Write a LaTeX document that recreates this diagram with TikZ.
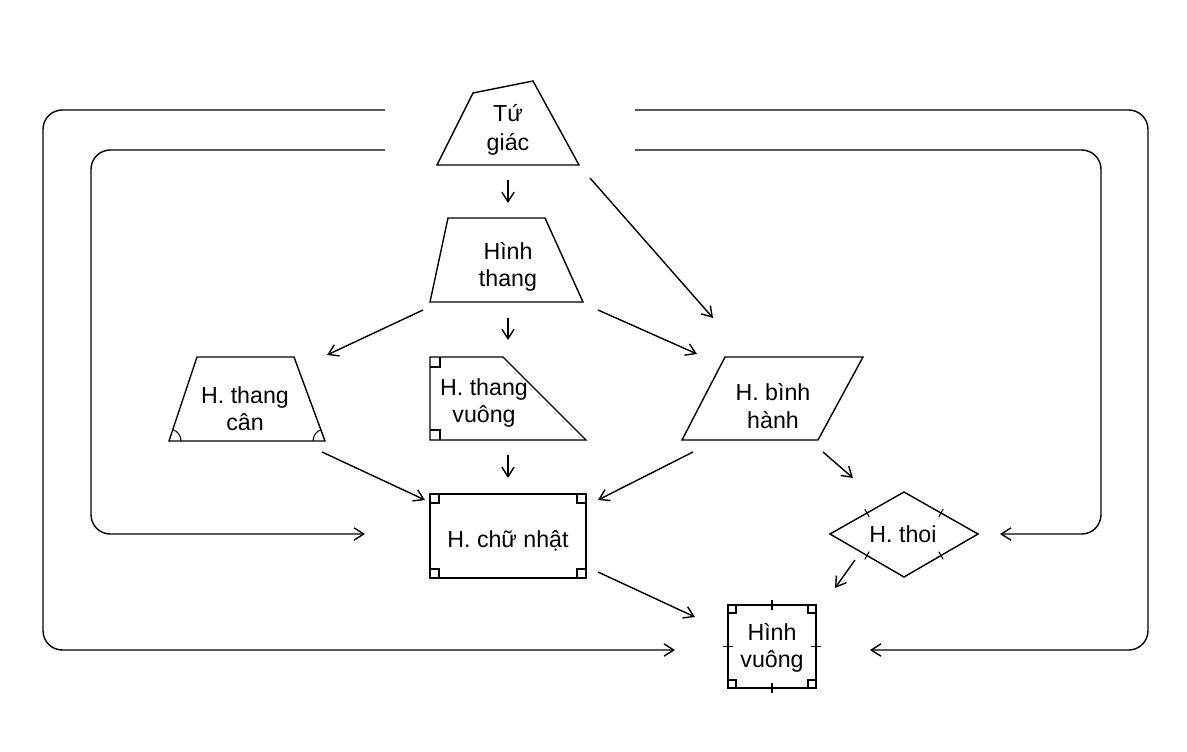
\documentclass[tikz,border=0pt]{standalone}
\usepackage{fontspec}
\setmainfont{Liberation Sans}
\usetikzlibrary{arrows.meta,calc,positioning}
\tikzset{%
	shapeline/.style = {draw, line width=0.8pt, line join=miter},
	txt/.style       = {align=center, inner sep=0pt, font=\fontsize{13.2}{15.5}\selectfont},
	arrow/.style     = {line width=0.8pt, -{Straight Barb[length=5.5pt,width=7pt]}},
	loopline/.style  = {arrow, rounded corners=11pt},
	rmark/.style     = {line width=0.6pt},
}
\begin{document}
\begin{tikzpicture}[x=0.02cm,y=-0.02cm]
		\useasboundingbox (0,0) rectangle (1187,751);
		% shapes
		\draw[shapeline] (437,165) -- (473,93) -- (533,81) -- (579,165) -- cycle;
		\draw[shapeline] (430,302) -- (448,218) -- (545,218) -- (583,302) -- cycle;
		\draw[shapeline] (169,441) -- (197,357) -- (294,357) -- (325,441) -- cycle;
		\draw[shapeline] (430,440) -- (430,357) -- (503,357) -- (586,440) -- cycle;
		\draw[shapeline] (682,440) -- (725,357) -- (863,357) -- (818,440) -- cycle;
		\draw[shapeline] (430,494) rectangle (586,578);
		\draw[shapeline] (830,534) -- (904,492) -- (978,534) -- (904,577) -- cycle;
		\draw[shapeline] (728,605) rectangle (816,688);
		% angle marks
		\draw[rmark] (169,441) ++(0.24cm,0) arc[start angle=0,end angle=72,radius=0.24cm];
		\draw[rmark] (325,441) ++(108:0.24cm) arc[start angle=108,end angle=180,radius=0.24cm];
		\draw[rmark] (430,367) -| (440,357);
		\draw[rmark] (430,430) -| (440,440);
		\draw[rmark] (430,503) -| (439,494);
		\draw[rmark] (586,503) -| (577,494);
		\draw[rmark] (430,569) -| (439,578);
		\draw[rmark] (586,569) -| (577,578);
		\draw[rmark] (728,613) -| (736,605);
		\draw[rmark] (816,613) -| (808,605);
		\draw[rmark] (728,680) -| (736,688);
		\draw[rmark] (816,680) -| (808,688);
		% equal sides
		\draw[rmark] (772,600) -- (772,610);
		\draw[rmark] (772,683) -- (772,693);
		\draw[rmark] (723,646.5) -- (733,646.5);
		\draw[rmark] (811,646.5) -- (821,646.5);
		\draw[rmark] (864.8,509.1) -- (869.2,516.9);
		\draw[rmark] (943.2,509.1) -- (938.8,516.9);
		\draw[rmark] (869.2,551.6) -- (864.8,559.4);
		\draw[rmark] (938.8,551.6) -- (943.2,559.4);
		% labels
		\node[txt] (tg)  at (508,130) {Tứ\\[1pt]giác};
		\node[txt] (ht)  at (508,267) {Hình\\thang};
		\node[txt] (htc) at (245,409) {H. thang\\cân};
		\node[txt] (htv) at (484,403) {H. thang\\vuông};
		\node[txt] (hbh) at (773,406) {H. bình\\hành};
		\node[txt] (hcn) at (508,541) {H. chữ nhật};
		\node[txt] (hth) at (903,534) {H. thoi};
		\node[txt] (hv)  at (772,648) {Hình\\vuông};
		% arrow ends
		\coordinate (tg-s)  at (508,180); \coordinate (ht-n)  at (508,203);
		\coordinate (tg-se) at (590,178); \coordinate (hbh-n) at (713,318);
		\coordinate (ht-sw) at (423,310); \coordinate (htc-n) at (327,355);
		\coordinate (ht-s)  at (508,318); \coordinate (htv-n) at (508,340);
		\coordinate (ht-se) at (598,310); \coordinate (hbh-w) at (697,354);
		\coordinate (htc-s) at (322,452); \coordinate (hcn-w) at (425,500);
		\coordinate (htv-s) at (508,455); \coordinate (hcn-n) at (508,478);
		\coordinate (hbh-s) at (693,452); \coordinate (hcn-e) at (598,500);
		\coordinate (hbh-e) at (823,452); \coordinate (hth-n) at (853,478);
		\coordinate (hcn-s) at (598,572); \coordinate (hv-w)  at (695,617);
		\coordinate (hth-s) at (855,560); \coordinate (hv-n)  at (835,588);
		\draw[arrow] (tg-s) -- (ht-n);
		\draw[arrow] (tg-se) -- (hbh-n);
		\draw[arrow] (ht-sw) -- (htc-n);
		\draw[arrow] (ht-s) -- (htv-n);
		\draw[arrow] (ht-se) -- (hbh-w);
		\draw[arrow] (htc-s) -- (hcn-w);
		\draw[arrow] (htv-s) -- (hcn-n);
		\draw[arrow] (hbh-s) -- (hcn-e);
		\draw[arrow] (hbh-e) -- (hth-n);
		\draw[arrow] (hcn-s) -- (hv-w);
		\draw[arrow] (hth-s) -- (hv-n);
		% round-about lines
		\coordinate (lo-a) at (385,110); \coordinate (lo-b) at (675,650);
		\coordinate (li-a) at (385,150); \coordinate (li-b) at (365,534);
		\coordinate (ro-a) at (635,110); \coordinate (ro-b) at (870,650);
		\coordinate (ri-a) at (635,150); \coordinate (ri-b) at (1000,534);
		\draw[loopline] (lo-a) -- (43,110) -- (43,650) -- (lo-b);
		\draw[loopline] (li-a) -- (91,150) -- (91,534) -- (li-b);
		\draw[loopline] (ro-a) -- (1148,110) -- (1148,650) -- (ro-b);
		\draw[loopline] (ri-a) -- (1101,150) -- (1101,534) -- (ri-b);
	\end{tikzpicture}
\end{document}
